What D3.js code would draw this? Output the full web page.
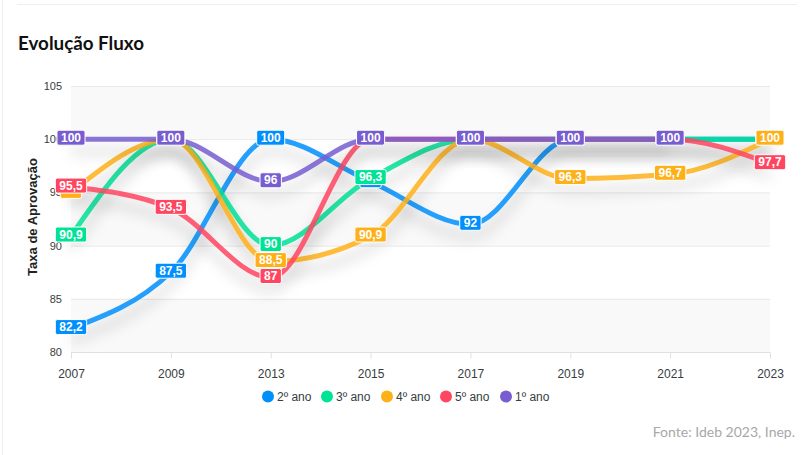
<!DOCTYPE html>
<html>
<head>
<meta charset="utf-8">
<script src="https://cdn.jsdelivr.net/npm/d3@7"></script>
<style>
  html, body { margin: 0; padding: 0; background: #fff; }
  svg { display: block; }
</style>
</head>
<body>
<svg id="chart" width="809" height="455"></svg>
<script>
const years = ["2007", "2009", "2013", "2015", "2017", "2019", "2021", "2023"];
const seriesNames = ["2º ano", "3º ano", "4º ano", "5º ano", "1º ano"];
const seriesColors = ["#008FFB", "#00E396", "#FEB019", "#FF4560", "#775DD0"];
const ano2 = [82.2, 87.5, 100, 96, 92, 100, 100, 100];
const ano3 = [90.9, 100, 90, 96.3, 100, 100, 100, 100];
const ano4 = [95, 100, 88.5, 90.9, 100, 96.3, 96.7, 100];
const ano5 = [95.5, 93.5, 87, 100, 100, 100, 100, 97.7];
const ano1 = [100, 100, 96, 100, 100, 100, 100, null];
const yTicks = [80, 85, 90, 95, 100, 105];
const titleText = "Evolução Fluxo";
const yTitle = "Taxa de Aprovação";
const sourceText = "Fonte: Ideb 2023, Inep.";

(function () {
const seriesValues = [ano2, ano3, ano4, ano5, ano1];
const series = seriesNames.map((n, i) => ({ name: n, color: seriesColors[i], values: seriesValues[i] }));

const svg = d3.select("#chart");
const W = 809, H = 455;
const pL = 71, pR = 770, pT = 86, pB = 352;

// card borders
svg.append("line").attr("x1", 2.5).attr("x2", 2.5).attr("y1", 0).attr("y2", H)
  .attr("stroke", "#efefef").attr("stroke-width", 1);
svg.append("line").attr("x1", 17).attr("x2", 797).attr("y1", 4.5).attr("y2", 4.5)
  .attr("stroke", "#efefef").attr("stroke-width", 1);

// title
svg.append("text").attr("x", 18).attr("y", 49.5)
  .attr("font-family", "Lato, 'Noto Sans', sans-serif").attr("font-weight", 700)
  .attr("font-size", 18.8).attr("fill", "#111").text(titleText);

const x = d3.scalePoint().domain(years).range([pL, pR]).padding(0);
const y = d3.scaleLinear().domain([80, 105]).range([pB, pT]);

const defs = svg.append("defs");
const f = defs.append("filter").attr("id", "shadow")
  .attr("x", "-20%").attr("y", "-50%").attr("width", "140%").attr("height", "250%");
f.append("feGaussianBlur").attr("in", "SourceAlpha").attr("stdDeviation", 7).attr("result", "b");
f.append("feOffset").attr("in", "b").attr("dy", 12).attr("result", "o");
f.append("feFlood").attr("flood-color", "#000").attr("flood-opacity", 0.22).attr("result", "c");
f.append("feComposite").attr("in", "c").attr("in2", "o").attr("operator", "in").attr("result", "s");
const m = f.append("feMerge");
m.append("feMergeNode").attr("in", "s");
m.append("feMergeNode").attr("in", "SourceGraphic");

// grid row bands
const g = svg.append("g");
for (let i = 0; i < yTicks.length - 1; i++) {
  const lo = yTicks[i], hi = yTicks[i + 1];
  const idxFromTop = yTicks.length - 2 - i;
  if (idxFromTop % 2 === 0) {
    g.append("rect").attr("x", pL).attr("width", pR - pL)
      .attr("y", y(hi)).attr("height", y(lo) - y(hi))
      .attr("fill", "#f3f3f3").attr("fill-opacity", 0.5);
  }
}
// grid lines
g.selectAll("line.grid").data(yTicks.filter(t => t > 80)).join("line")
  .attr("class", "grid")
  .attr("x1", pL).attr("x2", pR)
  .attr("y1", d => y(d) + 0.5).attr("y2", d => y(d) + 0.5)
  .attr("stroke", "#e8e8e8").attr("stroke-width", 1);

// x axis
const xAxis = d3.axisBottom(x).tickSize(6).tickPadding(8);
const xg = svg.append("g").attr("transform", `translate(0,${pB + 0.5})`).call(xAxis);
xg.select(".domain").attr("stroke", "#e0e0e0").attr("d", `M${pL},0H${pR}`);
xg.selectAll(".tick line").attr("stroke", "#e0e0e0");
xg.selectAll(".tick text").attr("font-family", "Arial, 'Liberation Sans', sans-serif")
  .attr("font-size", 12).attr("fill", "#373d3f").attr("dy", "0.95em");

// y axis
const yAxis = d3.axisLeft(y).tickValues(yTicks).tickSize(0).tickPadding(0);
const yg = svg.append("g").attr("transform", `translate(62,0)`).call(yAxis);
yg.select(".domain").remove();
yg.selectAll(".tick text").attr("font-family", "Arial, 'Liberation Sans', sans-serif")
  .attr("font-size", 11).attr("fill", "#373d3f");

svg.append("text")
  .attr("transform", `translate(37,217) rotate(-90)`)
  .attr("text-anchor", "middle")
  .attr("font-family", "Arial, 'Liberation Sans', sans-serif").attr("font-weight", 700)
  .attr("font-size", 13).attr("fill", "#222").text(yTitle);

// lines
const line = d3.line()
  .defined(d => d.v !== null)
  .x(d => x(d.year)).y(d => y(d.v))
  .curve(d3.curveMonotoneX);

const linesG = svg.append("g");
series.forEach(s => {
  const pts = years.map((yr, i) => ({ year: yr, v: s.values[i] }));
  linesG.append("path").datum(pts)
    .attr("d", line)
    .attr("fill", "none")
    .attr("stroke", s.color)
    .attr("stroke-opacity", 0.85)
    .attr("stroke-width", 5)
    .attr("filter", "url(#shadow)");
});

// data labels: later series drawn on top; text of a label covered by a later one is not drawn
const fmt = v => (Number.isInteger(v) ? String(v) : String(v).replace(".", ","));
const labelsG = svg.append("g");
const items = [];
series.forEach((s, si) => {
  years.forEach((yr, i) => {
    const v = s.values[i];
    if (v === null) return;
    items.push({ si, i, v, color: s.color, cx: x(yr), cy: y(v) - 1.5, text: fmt(v) });
  });
});
const measure = labelsG.append("text")
  .attr("font-family", "Arial, 'Liberation Sans', sans-serif")
  .attr("font-weight", 700).attr("font-size", 12);
items.forEach(d => { measure.text(d.text); d.w = measure.node().getComputedTextLength() + 8; });
measure.remove();
items.forEach(d => {
  d.covered = items.some(o => o.si > d.si && o.i === d.i &&
    Math.abs(o.cy - d.cy) < 14 && Math.abs(o.cx - d.cx) < (o.w + d.w) / 2);
});
items.forEach(d => {
  const lg = labelsG.append("g");
  lg.append("rect")
    .attr("x", d.cx - d.w / 2).attr("y", d.cy - 7.5)
    .attr("width", d.w).attr("height", 15)
    .attr("rx", 2).attr("fill", d.color)
    .attr("stroke", "#fff").attr("stroke-width", 1);
  if (!d.covered) {
    lg.append("text")
      .attr("x", d.cx).attr("y", d.cy)
      .attr("text-anchor", "middle").attr("dominant-baseline", "central")
      .attr("font-family", "Arial, 'Liberation Sans', sans-serif")
      .attr("font-weight", 700).attr("font-size", 12).attr("fill", "#fff")
      .text(d.text);
  }
});

// legend
const legendX = [268, 327, 387, 446, 506];
const lgd = svg.append("g");
series.forEach((s, i) => {
  lgd.append("circle").attr("cx", legendX[i]).attr("cy", 396.5).attr("r", 6).attr("fill", s.color);
  lgd.append("text").attr("x", legendX[i] + 9).attr("y", 396.5)
    .attr("dominant-baseline", "central")
    .attr("font-family", "Arial, 'Liberation Sans', sans-serif")
    .attr("font-size", 12).attr("fill", "#373d3f").text(s.name);
});

// source
svg.append("text").attr("x", 795).attr("y", 437)
  .attr("text-anchor", "end")
  .attr("font-family", "Lato, 'Noto Sans', sans-serif")
  .attr("font-size", 14).attr("fill", "#a8a8a8").text(sourceText);
})();
</script>
</body>
</html>
